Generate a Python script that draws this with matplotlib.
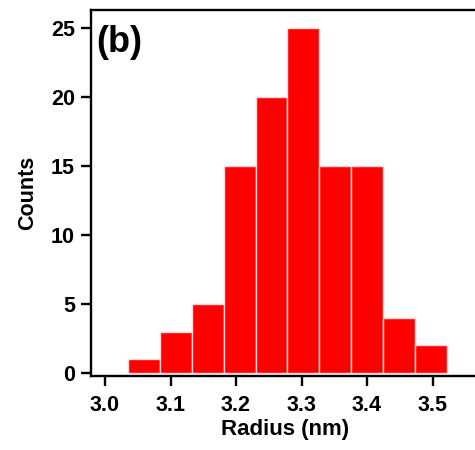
import matplotlib
matplotlib.use("Agg")
import numpy as np
from matplotlib import pyplot as plt

# du lieu histogram (doc tu hinh)
bin_left = [3.035, 3.0837, 3.1324, 3.1811, 3.2298, 3.2785, 3.3272, 3.3759, 3.4246, 3.4733]
bin_width = 0.0487
counts = [1, 3, 5, 15, 20, 25, 15, 15, 4, 2]
xticks = [3.0, 3.1, 3.2, 3.3, 3.4, 3.5]
yticks = [0, 5, 10, 15, 20, 25]

plt.rcParams['font.family'] = ['Liberation Sans', 'DejaVu Sans']
plt.rcParams['font.weight'] = 'bold'

fig = plt.figure(figsize=(4.75, 4.5), dpi=100)
ax = fig.add_axes([0.1916, 0.1644, 0.819, 0.8134])

ax.bar(bin_left, counts, width=bin_width, align='edge',
       color='#ff0000', edgecolor='#ffd8d8', linewidth=1.0)

ax.set_xlim(2.9786, 3.5725)
ax.set_ylim(-0.22, 26.3)
ax.set_xticks(xticks)
ax.set_xticklabels([f"{v:.1f}" for v in xticks])
ax.set_yticks(yticks)

for s in ['left', 'bottom', 'top']:
    ax.spines[s].set_linewidth(1.7)
ax.spines['right'].set_visible(False)
ax.tick_params(direction='out', length=7.5, width=1.7, labelsize=15.5)
ax.tick_params(axis='x', pad=6)
ax.tick_params(axis='y', pad=4)

ax.set_xlabel('Radius (nm)', fontsize=16, fontweight='bold', labelpad=2)
ax.set_ylabel('Counts', fontsize=15.5, fontweight='bold', labelpad=9)
ax.text(0.014, 0.96, '(b)', transform=ax.transAxes, fontsize=26,
        fontweight='bold', va='top', ha='left')

fig.savefig('out.png', dpi=100)
